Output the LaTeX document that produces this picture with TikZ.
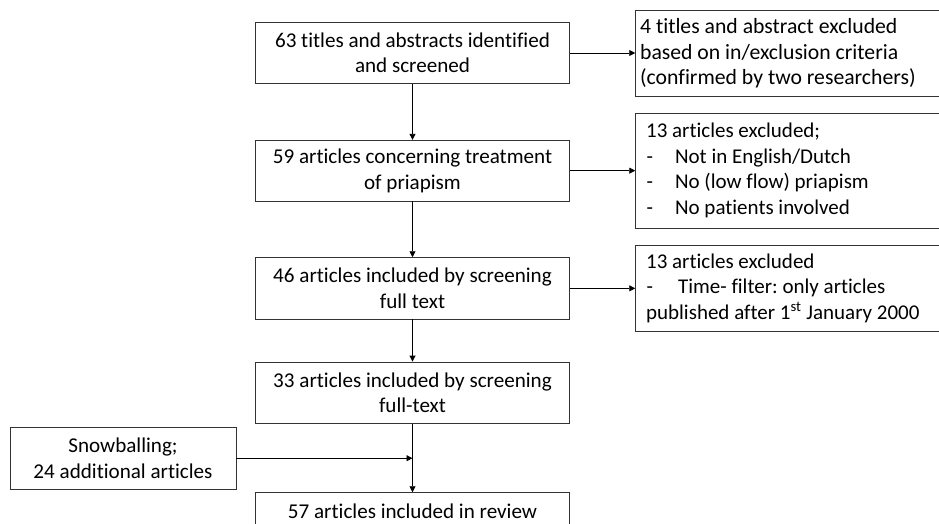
\documentclass[tikz,border=0pt]{standalone}
\usepackage{fontspec}
\setmainfont{Carlito}[Ligatures={NoCommon}]
\usetikzlibrary{arrows.meta}
\frenchspacing
\tikzset{
  mainbox/.style={draw=black!80, line width=0.9pt, minimum width=313.6pt, inner sep=0pt, align=center, font=\fontsize{21.1}{25.5}\selectfont},
  sidebox/.style={draw=black!80, line width=0.9pt, minimum width=304.3pt, text width=283.5pt, inner xsep=10.3pt, inner ysep=0pt, align=flush left, font=\fontsize{21}{25.5}\selectfont},
  flow/.style={draw=black, line width=0.9pt, -{Triangle[length=6pt,width=6pt]}}
}
\newcommand{\bul}[2][29pt]{\makebox[#1][l]{\hspace*{0.5pt}-}#2}
\begin{document}
\begin{tikzpicture}[x=1pt,y=1pt]
\useasboundingbox (0,0) rectangle (939,-524);
\clip (0,0) rectangle (939,-524);
\node[mainbox, minimum height=60.6pt] (b1) at (412.5,-53) {63 titles and abstracts identified\\and screened};
\node[mainbox, minimum height=60.7pt] (b2) at (412.5,-170.65) {59 articles concerning treatment\\of priapism};
\node[mainbox, minimum height=61.3pt] (b3) at (412.5,-288.35) {46 articles included by screening\\full text};
\node[mainbox, minimum height=61.7pt] (b4) at (412.5,-392.85) {33 articles included by screening\\full-text};
\node[mainbox, minimum height=37pt] (b5) at (412.5,-511.2) {57 articles included in review};
\node[mainbox, minimum width=226pt, minimum height=61.7pt] (sn) at (123,-458.2) {Snowballing;\\24 additional articles};
\node[sidebox, inner xsep=4.3pt, text width=295.5pt, minimum height=86.7pt, font=\fontsize{21.7}{25.5}\selectfont] (r1) at (787.85,-53.35) {4 titles and abstract excluded\\based on in/exclusion criteria\\(confirmed by two researchers)};
\node[sidebox, minimum height=115pt] (r2) at (787.85,-170.5) {13 articles excluded;\\\bul{Not in English/Dutch}\\\bul{No (low flow) priapism}\\\bul{No patients involved}};
\node[sidebox, minimum height=86.7pt] (r3) at (787.85,-288.35) {13 articles excluded\\\bul[32pt]{Time- filter: only articles}\\published after 1\textsuperscript{st} January 2000};
\draw[flow] (b1.east) -- (b1.east -| r1.west);
\draw[flow] (b2.east) -- (b2.east -| r2.west);
\draw[flow] (b3.east) -- (b3.east -| r3.west);
\draw[flow] (b1.south) -- (b2.north);
\draw[flow] (b2.south) -- (b3.north);
\draw[flow] (b3.south) -- (b4.north);
\draw[flow] (b4.south) -- (b5.north);
\coordinate (join) at (sn.east -| b4.south);
\draw[flow] (sn.east) -- (join);
\end{tikzpicture}
\end{document}
